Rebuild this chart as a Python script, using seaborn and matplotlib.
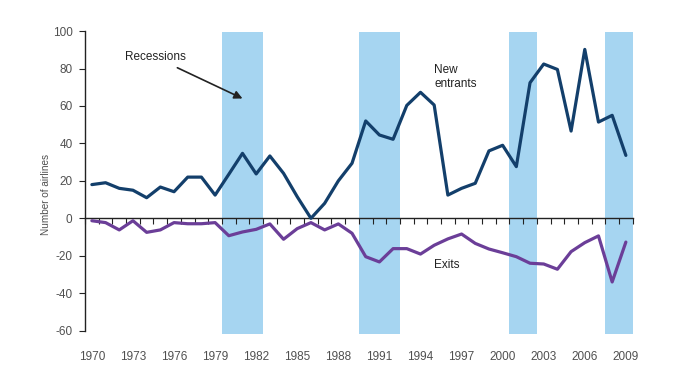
import numpy as np
import pandas as pd
import matplotlib
matplotlib.use("Agg")
import matplotlib.pyplot as plt
import seaborn as sns

# Data
years = list(range(1970, 2010))
new_entrants = [18, 19, 16, 15, 11, 16.7, 14.2, 22, 22, 12.4,
                23.5, 34.7, 23.7, 33.3, 24, 11.5, 0, 8, 20, 29.4,
                52, 44.5, 42.2, 60.3, 67.3, 60.5, 12.4, 16, 18.7, 36,
                39, 27.6, 72.4, 82.4, 79.5, 46.6, 90.2, 51.4, 55, 33.6]
exits = [-1.3, -2.3, -6.2, -1.3, -7.5, -6.2, -2.3, -2.9, -2.9, -2.3,
         -9.3, -7.3, -5.9, -3, -11.2, -5.5, -2.3, -6.2, -3, -8,
         -20.5, -23.3, -16.2, -16.2, -19.1, -14.4, -11, -8.4, -13.4, -16.4,
         -18.4, -20.5, -24, -24.4, -27.2, -17.8, -13, -9.4, -34, -12.7]
# recession periods (first year, last year)
recessions = [(1980, 1982), (1990, 1992), (2001, 2002), (2008, 2009)]
label_years = [1970, 1973, 1976, 1979, 1982, 1985, 1988, 1991, 1994, 1997, 2000, 2003, 2006, 2009]

df = pd.DataFrame({"year": years, "New entrants": new_entrants, "Exits": exits})

sns.set_style("white")
plt.rcParams["font.family"] = ["Liberation Sans", "DejaVu Sans"]
plt.rcParams["axes.unicode_minus"] = False

fig = plt.figure(figsize=(6.93, 3.69), dpi=100)
ax = fig.add_axes([0.1227, 0.0938, 0.7903, 0.822])

band_color = "#a6d5f1"
for start, end in recessions:
    ax.fill_between([start - 0.5, end + 0.5], -62, 99.5, color=band_color, lw=0, zorder=0)

sns.lineplot(data=df, x="year", y="New entrants", color="#133f6b", lw=2.3, ax=ax, zorder=3)
sns.lineplot(data=df, x="year", y="Exits", color="#6b3e98", lw=2.3, ax=ax, zorder=3)

ax.set_xlim(1969.5, 2009.5)
ax.set_ylim(-62, 100)

# spines
for s in ["top", "right"]:
    ax.spines[s].set_visible(False)
ax.spines["left"].set_bounds(-60, 100)
ax.spines["left"].set_color("#222222")
ax.spines["left"].set_linewidth(1.0)
ax.spines["bottom"].set_position(("data", 0))
ax.spines["bottom"].set_color("#222222")
ax.spines["bottom"].set_linewidth(1.0)

ax.set_yticks(range(-60, 101, 20))
ax.tick_params(axis="y", direction="out", length=4, width=0.8, color="#222222",
               labelsize=8.5, labelcolor="#505050", pad=5, left=True)
ax.set_xticks(np.arange(1969.5, 2010, 1.0))
ax.set_xticklabels([])
ax.tick_params(axis="x", direction="out", length=4, width=0.8, color="#222222", bottom=True)
ax.set_xlabel("")
ax.set_ylabel("Number of airlines", fontsize=7.2, color="#505050")
ax.yaxis.set_label_coords(-0.062, 0.46)

sec = ax.secondary_xaxis("bottom")
sec.set_xticks(label_years)
sec.set_xticklabels([str(y) for y in label_years])
sec.tick_params(length=0, labelsize=8.5, labelcolor="#505050", pad=12)
sec.spines["bottom"].set_visible(False)

ax.annotate("Recessions", xy=(1981, 64), xytext=(1972.4, 86),
            fontsize=8.5, color="#222222", va="center", ha="left",
            arrowprops=dict(arrowstyle="-|>", color="#222222", lw=1.2,
                            shrinkA=2, shrinkB=0, mutation_scale=12))
ax.text(1995, 75.5, "New\nentrants", fontsize=8.5, color="#222222",
        va="center", ha="left", linespacing=1.3)
ax.text(1995, -25, "Exits", fontsize=8.5, color="#222222", va="center", ha="left")

fig.savefig("out.png", dpi=100)
